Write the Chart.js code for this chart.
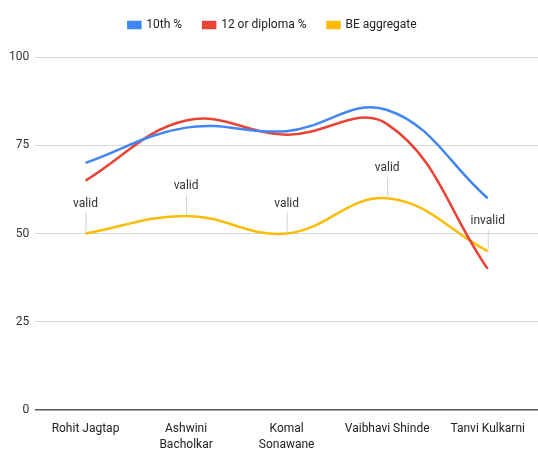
<!DOCTYPE html>
<html>
<head>
<meta charset="utf-8">
<script src="https://cdn.jsdelivr.net/npm/chart.js@4/dist/chart.umd.min.js"></script>
<style>
  body { margin: 0; background: #fff; }
  canvas { display: block; }
</style>
</head>
<body>
<canvas id="myChart" width="538" height="452"></canvas>
<script>
let students = ['Rohit Jagtap', ['Ashwini', 'Bacholkar'], ['Komal', 'Sonawane'], 'Vaibhavi Shinde', 'Tanvi Kulkarni'];
let tenth = [70, 80, 79, 85, 60];
let twelfth = [65, 82, 78, 81, 40];
let beAggregate = [50, 55, 50, 60, 45];
let beLabels = ['valid', 'valid', 'valid', 'valid', 'invalid'];
let yTicks = [0, 25, 50, 75, 100];

// draws the little "valid" labels with leader lines over the BE points
let pointLabels = {
    id: 'pointLabels',
    afterDatasetsDraw(chart) {
        let ctx = chart.ctx;
        let meta = chart.getDatasetMeta(2);
        ctx.save();
        ctx.font = '12px Roboto, Arial, sans-serif';
        ctx.textAlign = 'center';
        ctx.textBaseline = 'middle';
        meta.data.forEach((pt, i) => {
            ctx.strokeStyle = '#d0d0d0';
            ctx.lineWidth = 1;
            ctx.beginPath();
            ctx.moveTo(pt.x + 0.5, pt.y - 2);
            ctx.lineTo(pt.x + 0.5, pt.y - 21);
            ctx.stroke();
            ctx.fillStyle = '#333';
            ctx.fillText(beLabels[i], pt.x, pt.y - 30);
        });
        ctx.restore();
    }
};

// a bit more room under the legend
let legendGap = {
    id: 'legendGap',
    beforeInit(chart) {
        let fit = chart.legend.fit;
        chart.legend.fit = function () {
            fit.bind(chart.legend)();
            this.height += 16;
        };
    }
};

new Chart('myChart', {
    type: 'line',
    data: {
        labels: students,
        datasets: [
            { label: '10th %', data: tenth, borderColor: '#4285F4', backgroundColor: '#4285F4' },
            { label: '12 or diploma %', data: twelfth, borderColor: '#EA4335', backgroundColor: '#EA4335' },
            { label: 'BE aggregate', data: beAggregate, borderColor: '#FBBC04', backgroundColor: '#FBBC04' }
        ]
    },
    options: {
        responsive: false,
        animation: false,
        layout: { padding: { left: 3, right: -4, top: -2, bottom: -12 } },
        elements: {
            line: { borderWidth: 2.5, tension: 0.4 },
            point: { radius: 0 }
        },
        plugins: {
            legend: {
                labels: {
                    boxWidth: 12, boxHeight: 6, padding: 21,
                    color: '#222',
                    font: { family: 'Roboto, Arial, sans-serif', size: 12 }
                }
            },
            tooltip: { enabled: false }
        },
        scales: {
            x: {
                offset: true,
                grid: { display: false, drawTicks: false },
                border: { display: false },
                ticks: {
                    color: '#222', maxRotation: 0, autoSkip: false, padding: 11,
                    font: { family: 'Roboto, Arial, sans-serif', size: 12, lineHeight: 1.33 }
                }
            },
            y: {
                min: 0, max: 100,
                afterBuildTicks: axis => { axis.ticks = yTicks.map(v => ({ value: v })); },
                grid: {
                    drawTicks: false,
                    color: ctx => ctx.tick && ctx.tick.value === 0 ? '#555' : '#d6d6d6',
                    lineWidth: ctx => ctx.tick && ctx.tick.value === 0 ? 1.5 : 1
                },
                border: { display: false },
                ticks: {
                    color: '#333', padding: 6,
                    font: { family: 'Roboto, Arial, sans-serif', size: 12 }
                }
            }
        }
    },
    plugins: [pointLabels, legendGap]
});
</script>
</body>
</html>
